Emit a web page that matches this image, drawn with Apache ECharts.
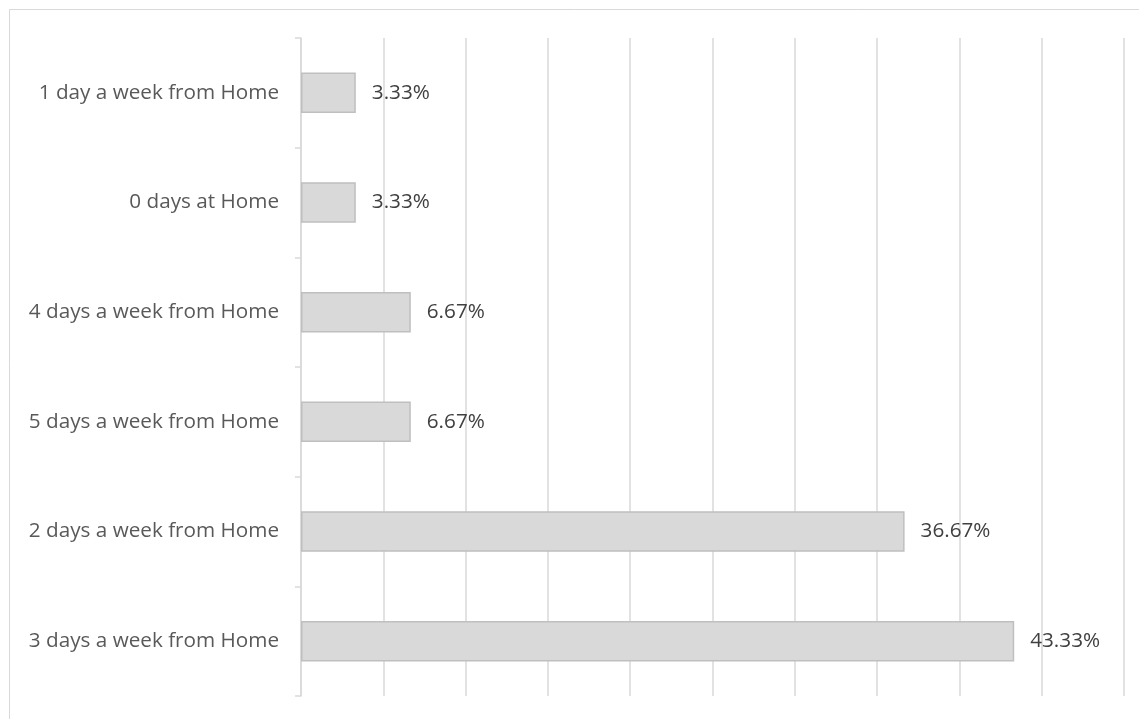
<!DOCTYPE html>
<html>
<head>
<meta charset="utf-8">
<script src="https://cdn.jsdelivr.net/npm/echarts@6/dist/echarts.min.js"></script>
<style>
  html, body { margin: 0; padding: 0; background: #fff; }
  #chart { width: 1139px; height: 719px; }
</style>
</head>
<body>
<div id="chart"></div>
<script>
// Work-from-home preference, bottom to top
const categories = [
  '3 days a week from Home',
  '2 days a week from Home',
  '5 days a week from Home',
  '4 days a week from Home',
  '0 days at Home',
  '1 day a week from Home'
];
const shares = [43.33, 36.67, 6.67, 6.67, 3.33, 3.33];

const chart = echarts.init(document.getElementById('chart'));
chart.setOption({
  animation: false,
  backgroundColor: '#ffffff',
  graphic: [{
    type: 'rect',
    shape: { x: 9.5, y: 9.5, width: 1200, height: 800 },
    style: { fill: 'none', stroke: '#d9d9d9', lineWidth: 1 },
    silent: true
  }],
  grid: { left: 301, right: 15, top: 38, bottom: 23, containLabel: false },
  xAxis: {
    type: 'value',
    min: 0,
    max: 50,
    interval: 5,
    axisLabel: { show: false },
    axisLine: { show: false },
    axisTick: { show: false },
    splitLine: { show: true, lineStyle: { color: '#d9d9d9', width: 1.5 } }
  },
  yAxis: {
    type: 'category',
    data: categories,
    axisLine: { show: true, lineStyle: { color: '#d9d9d9', width: 1.5 } },
    axisTick: { show: true, length: 6, lineStyle: { color: '#d9d9d9', width: 1.5 } },
    axisLabel: {
      margin: 22,
      color: '#595959',
      fontSize: 20.7,
      fontFamily: 'Open Sans'
    }
  },
  series: [{
    type: 'bar',
    data: shares,
    barCategoryGap: '63%',
    itemStyle: { color: '#d9d9d9', borderColor: '#bfbfbf', borderWidth: 1.5 },
    label: {
      show: true,
      position: 'right',
      distance: 16,
      color: '#404040',
      fontSize: 20.7,
      fontFamily: 'Open Sans',
      formatter: p => p.value.toFixed(2) + '%'
    }
  }]
});
</script>
</body>
</html>
